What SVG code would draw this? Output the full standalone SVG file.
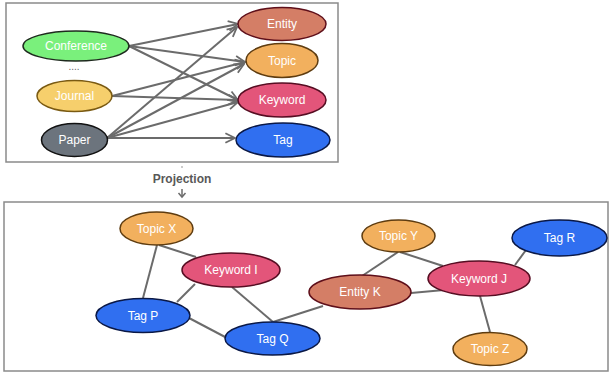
<svg xmlns="http://www.w3.org/2000/svg" width="610" height="373" viewBox="0 0 610 373">
<style>
  .box{fill:#fff;stroke:#8a8a8a;stroke-width:1.5}
  .n ellipse{stroke-width:1.5}
  .n text{font-family:"Liberation Sans",Arial,sans-serif;font-size:12px;fill:#fff;text-anchor:middle;dominant-baseline:central}
  .conf{fill:#7af07c;stroke:#1e2a1e}
  .jour{fill:#f6cf6c;stroke:#7a5a12}
  .paper{fill:#6c747d;stroke:#111}
  .ent{fill:#d47e66;stroke:#5e0f1a}
  .top{fill:#f2b05e;stroke:#5e3c10}
  .kw{fill:#e3557a;stroke:#560d22}
  .tag{fill:#306ff0;stroke:#0a1846}
  .e line{stroke:#6b6b6b;stroke-width:2}
  .a line{stroke:#6b6b6b;stroke-width:2;marker-end:url(#arr)}
</style>
<defs>
  <marker id="arr" viewBox="0 0 10 10" refX="9" refY="5" markerWidth="6" markerHeight="6" orient="auto" markerUnits="strokeWidth">
    <path d="M1,1 L9,5 L1,9" fill="none" stroke="#6b6b6b" stroke-width="1.5"/>
  </marker>
</defs>
<rect class="box" x="6" y="3" width="332" height="159"/>
<rect class="box" x="4" y="202" width="604" height="169"/>

<g id="connectors">
  <g class="a">
    <line x1="129" y1="46" x2="238" y2="24"/>
    <line x1="129" y1="46" x2="245" y2="62"/>
    <line x1="129" y1="46" x2="238" y2="100"/>
    <line x1="112" y1="96" x2="245" y2="62"/>
    <line x1="112" y1="96" x2="238" y2="100"/>
    <line x1="107" y1="138" x2="237" y2="27"/>
    <line x1="107" y1="138" x2="244" y2="64"/>
    <line x1="107" y1="138" x2="238" y2="102"/>
    <line x1="107" y1="138" x2="235" y2="138"/>
  </g>
  <g class="e">
    <line x1="157" y1="245" x2="143" y2="298"/>
    <line x1="159" y1="245" x2="196" y2="257"/>
    <line x1="195" y1="284" x2="177" y2="302"/>
    <line x1="232" y1="287" x2="273" y2="322"/>
    <line x1="189" y1="318" x2="227" y2="338"/>
    <line x1="273" y1="322" x2="323" y2="306"/>
    <line x1="398" y1="252" x2="362" y2="276"/>
    <line x1="400" y1="252" x2="443" y2="266"/>
    <line x1="411" y1="293" x2="444" y2="290"/>
    <line x1="515" y1="265" x2="526" y2="250"/>
    <line x1="480" y1="296" x2="490" y2="332"/>
  </g>
  <g id="projection-arrow">
    <circle cx="182" cy="167" r="0.8" fill="#888"/>
    <line x1="182" y1="189" x2="182" y2="197" stroke="#6b6b6b" stroke-width="1.5"/>
    <path d="M178.5,193 L182,197 L185.5,193" fill="none" stroke="#6b6b6b" stroke-width="1.5"/>
  </g>
</g>
<text x="182" y="183" font-family="Liberation Sans,Arial,sans-serif" font-size="12" font-weight="bold" fill="#585858" text-anchor="middle">Projection</text>
<text x="74" y="70" font-family="Liberation Sans,Arial,sans-serif" font-size="10" fill="#666" text-anchor="middle">....</text>

<g id="conference" class="n"><ellipse class="conf" cx="76" cy="46" rx="53" ry="15"/><text x="76" y="46">Conference</text></g>
<g id="journal" class="n"><ellipse class="jour" cx="74.5" cy="96" rx="37.5" ry="15.5"/><text x="74.5" y="96">Journal</text></g>
<g id="paper" class="n"><ellipse class="paper" cx="74.5" cy="140" rx="33" ry="16.5"/><text x="74.5" y="140">Paper</text></g>
<g id="entity" class="n"><ellipse class="ent" cx="282" cy="24" rx="44" ry="16.5"/><text x="282" y="24">Entity</text></g>
<g id="topic" class="n"><ellipse class="top" cx="282" cy="60.5" rx="36" ry="17"/><text x="282" y="60.5">Topic</text></g>
<g id="keyword" class="n"><ellipse class="kw" cx="282" cy="100" rx="44" ry="17"/><text x="282" y="100">Keyword</text></g>
<g id="tag" class="n"><ellipse class="tag" cx="283" cy="140" rx="47" ry="17"/><text x="283" y="140">Tag</text></g>

<g id="topic-x" class="n"><ellipse class="top" cx="156.5" cy="228.5" rx="36.5" ry="16.5"/><text x="156.5" y="228.5">Topic X</text></g>
<g id="keyword-i" class="n"><ellipse class="kw" cx="231" cy="270" rx="49" ry="17"/><text x="231" y="270">Keyword I</text></g>
<g id="tag-p" class="n"><ellipse class="tag" cx="143" cy="315.5" rx="47" ry="17"/><text x="143" y="315.5">Tag P</text></g>
<g id="tag-q" class="n"><ellipse class="tag" cx="272.5" cy="338.5" rx="47.5" ry="16.5"/><text x="272.5" y="338.5">Tag Q</text></g>
<g id="entity-k" class="n"><ellipse class="ent" cx="360" cy="292" rx="51" ry="17"/><text x="360" y="292">Entity K</text></g>
<g id="topic-y" class="n"><ellipse class="top" cx="398.5" cy="236" rx="36.5" ry="16"/><text x="398.5" y="236">Topic Y</text></g>
<g id="keyword-j" class="n"><ellipse class="kw" cx="479" cy="278.5" rx="51" ry="17.5"/><text x="479" y="278.5">Keyword J</text></g>
<g id="tag-r" class="n"><ellipse class="tag" cx="559.5" cy="238" rx="47.5" ry="18"/><text x="559.5" y="238">Tag R</text></g>
<g id="topic-z" class="n"><ellipse class="top" cx="490" cy="349" rx="37" ry="16.5"/><text x="490" y="349">Topic Z</text></g>
</svg>
